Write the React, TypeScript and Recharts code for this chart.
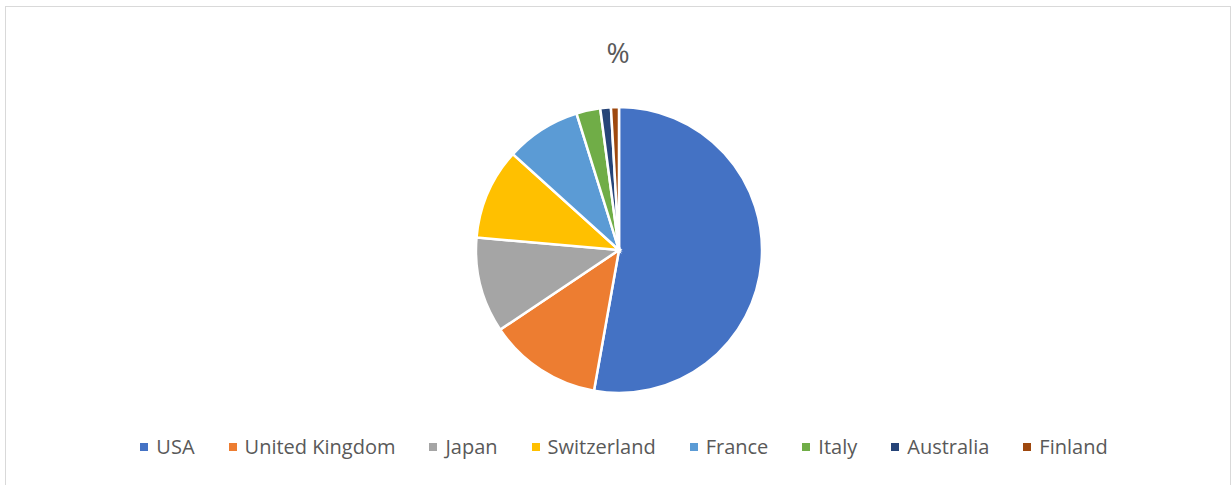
import { PieChart, Pie, Cell, Legend } from "recharts"

const countries = ["USA", "United Kingdom", "Japan", "Switzerland", "France", "Italy", "Australia", "Finland"]
const shares = [52.8, 12.8, 10.8, 10.3, 8.5, 2.7, 1.2, 0.9]
const colors = ["#4472C4", "#ED7D31", "#A5A5A5", "#FFC000", "#5B9BD5", "#70AD47", "#264478", "#9E480E"]

const data = countries.map((name, i) => ({ name, value: shares[i] }))

const font = "'Open Sans', sans-serif"

function LegendRow() {
  return (
    <div
      style={{
        display: "flex",
        justifyContent: "center",
        alignItems: "center",
        fontFamily: font,
        fontSize: 20,
        color: "#595959",
        whiteSpace: "nowrap",
        paddingLeft: 12,
      }}
    >
      {countries.map((name, i) => (
        <div key={name} style={{ display: "flex", alignItems: "center", marginRight: i < countries.length - 1 ? 34 : 0 }}>
          <span style={{ display: "inline-block", width: 8, height: 8, background: colors[i], marginRight: 8 }} />
          <span>{name}</span>
        </div>
      ))}
    </div>
  )
}

export default function App() {
  return (
    <div
      style={{
        position: "absolute",
        left: 5,
        top: 6,
        width: 1224,
        height: 490,
        border: "1px solid #d9d9d9",
        background: "#fff",
      }}
    >
      <div
        style={{
          position: "absolute",
          top: 26,
          left: 0,
          width: "100%",
          textAlign: "center",
          fontFamily: font,
          fontSize: 28,
          color: "#595959",
        }}
      >
        %
      </div>
      <PieChart width={1224} height={470}>
        <Pie
          data={data}
          dataKey="value"
          nameKey="name"
          cx={608}
          cy={238}
          outerRadius={143}
          startAngle={90}
          endAngle={-270}
          stroke="#fff"
          strokeWidth={2.5}
          isAnimationActive={false}
        >
          {data.map((d, i) => (
            <Cell key={d.name} fill={colors[i]} />
          ))}
        </Pie>
        <Legend
          content={() => <LegendRow />}
          wrapperStyle={{ position: "absolute", top: 426, left: 0, width: 1224 }}
        />
      </PieChart>
    </div>
  )
}
